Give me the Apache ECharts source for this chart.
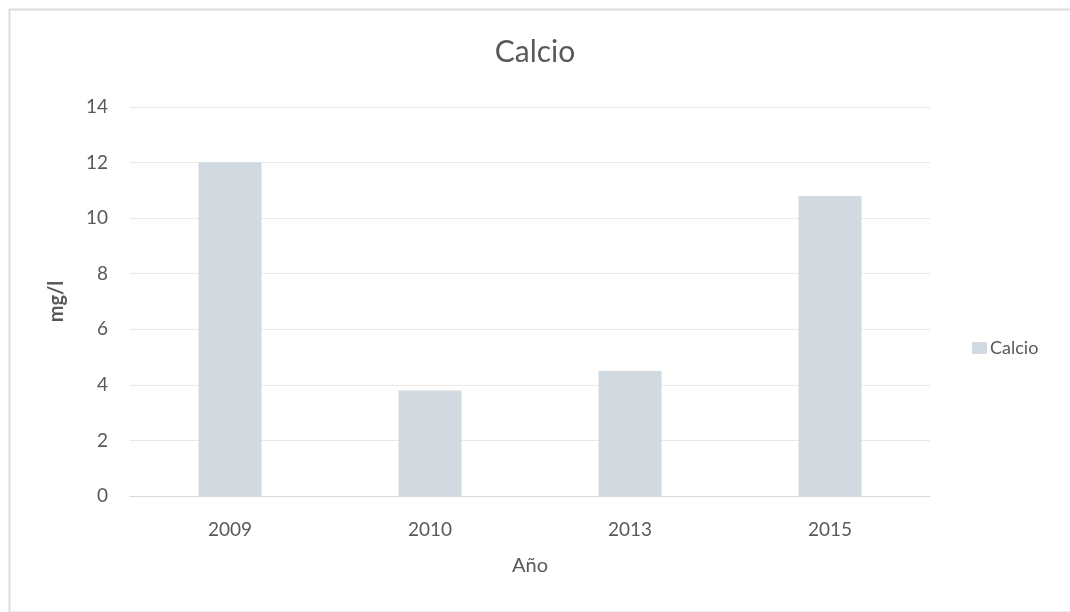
<!DOCTYPE html>
<html><head><meta charset="utf-8">
<script src="https://cdn.jsdelivr.net/npm/echarts@6/dist/echarts.min.js"></script>
<style>html,body{margin:0;padding:0;background:#fff}#c{width:1070px;height:612px}</style>
</head><body><div id="c"></div>
<script>
const categories = ['2009', '2010', '2013', '2015'];
const calcio = [12, 3.8, 4.5, 10.8];
const yTicks = [0, 2, 4, 6, 8, 10, 12, 14];

const chart = echarts.init(document.getElementById('c'));
const font = 'Lato, "Open Sans", sans-serif';
chart.setOption({
  animation: false,
  backgroundColor: '#fff',
  graphic: [{
    type: 'rect', left: 7, top: 7,
    shape: {width: 1075, height: 603},
    style: {fill: 'none', stroke: '#dcdcdc', lineWidth: 2}
  }],
  title: {
    text: 'Calcio', left: 'center', top: 32,
    textStyle: {fontFamily: font, fontSize: 30, fontWeight: 'normal', color: '#595959'}
  },
  legend: {
    data: ['Calcio'], left: 967, top: 334, itemWidth: 15, itemHeight: 12, itemGap: 5,
    icon: 'rect',
    textStyle: {fontFamily: font, fontSize: 18, color: '#595959', padding: [0,0,0,-2]}
  },
  grid: {left: 130, right: 140, top: 107, bottom: 116},
  xAxis: {
    type: 'category', data: categories,
    name: 'Año', nameLocation: 'middle', nameGap: 60,
    nameTextStyle: {fontFamily: font, fontSize: 20, color: '#595959'},
    axisLine: {lineStyle: {color: '#d9d9d9'}},
    axisTick: {show: false},
    axisLabel: {fontFamily: font, fontSize: 19, color: '#595959', margin: 24}
  },
  yAxis: {
    type: 'value', min: 0, max: 14, interval: 2,
    name: 'mg/l', nameLocation: 'middle', nameGap: 63, nameRotate: 90,
    nameTextStyle: {fontFamily: font, fontSize: 20, fontWeight: 'bold', color: '#595959'},
    axisLine: {show: false}, axisTick: {show: false},
    axisLabel: {fontFamily: font, fontSize: 19, color: '#595959', margin: 22,
      formatter: v => yTicks.includes(v) ? String(v) : ''},
    splitLine: {lineStyle: {color: '#e9e9e9'}}
  },
  series: [{
    name: 'Calcio', type: 'bar', data: calcio, barWidth: '31.5%',
    itemStyle: {color: '#d1dae0'}
  }]
});
</script></body></html>
